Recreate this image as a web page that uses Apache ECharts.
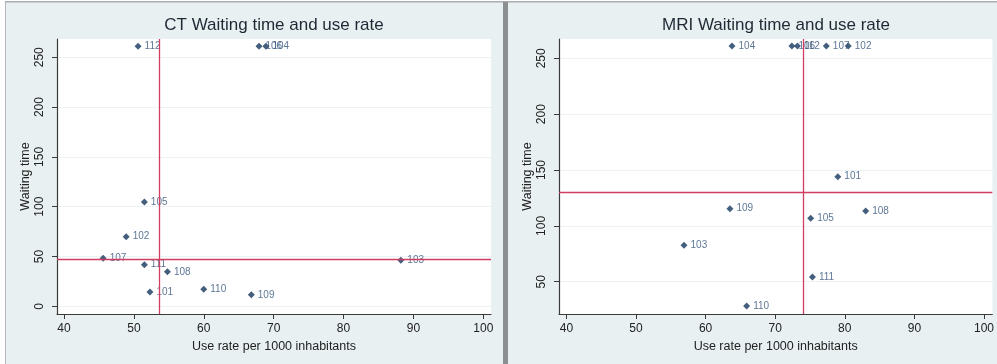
<!DOCTYPE html>
<html><head><meta charset="utf-8">
<script src="https://cdn.jsdelivr.net/npm/echarts@6/dist/echarts.min.js"></script>
<style>html,body{margin:0;padding:0;background:#fff}#c{width:997px;height:364px}</style>
</head><body><div id="c"></div>
<script>
// ---- data ----
const hospitals   = ['101','102','103','104','105','106','107','108','109','110','111','112'];
const ctUseRate   = [52.3, 48.9, 88.2, 68.9, 51.5, 67.9, 45.6, 54.8, 66.8, 60.0, 51.5, 50.6];
const ctWaiting   = [14.4, 69.9, 46.2, 261, 104.7, 261, 48.2, 34.7, 11.6, 17.1, 41.8, 261];
const mriUseRate  = [79.0, 80.5, 56.9, 63.8, 75.1, 72.4, 77.35, 83.0, 63.5, 65.9, 75.35, 73.2];
const mriWaiting  = [144.0, 261, 82.6, 261, 106.8, 261, 261, 113.3, 115.4, 28.2, 54.2, 261];
const ctRefUse = 53.6, ctRefWait = 47.2;
const mriRefUse = 74.1, mriRefWait = 130.3;
const xTicks    = [40, 50, 60, 70, 80, 90, 100];
const ctYTicks  = [0, 50, 100, 150, 200, 250];
const mriYTicks = [50, 100, 150, 200, 250];
const titles = ['CT Waiting time and use rate', 'MRI Waiting time and use rate'];
const xName = 'Use rate per 1000 inhabitants';
const yName = 'Waiting time';

// ---- styles ----
const FONT = 'Liberation Sans, Arial, sans-serif';
const AXIS = '#3a3a3a';
const MARK = '#14375c';
const LAB  = '#34547a';
const REF  = '#d23d62';

function xAxis(gi, min, max) {
  return {
    type: 'value', gridIndex: gi, min: min, max: max,
    name: xName, nameLocation: 'middle', nameGap: 21,
    nameTextStyle: {fontFamily: FONT, fontSize: 12.5, color: '#222'},
    axisLine: {show: true, onZero: false, lineStyle: {color: AXIS, width: 1.2}},
    axisTick: {show: true, length: 5, customValues: xTicks, lineStyle: {color: AXIS}},
    axisLabel: {customValues: xTicks, fontFamily: FONT, fontSize: 12, color: '#222', margin: 9},
    splitLine: {show: false}
  };
}
function yAxis(gi, min, max, ticks) {
  return {
    type: 'value', gridIndex: gi, min: min, max: max,
    name: yName, nameLocation: 'middle', nameGap: 25,
    nameTextStyle: {fontFamily: FONT, fontSize: 12.5, color: '#222'},
    axisLine: {show: true, onZero: false, lineStyle: {color: AXIS, width: 1.2}},
    axisTick: {show: true, length: 5, customValues: ticks, lineStyle: {color: AXIS}},
    axisLabel: {customValues: ticks, rotate: 90, fontFamily: FONT, fontSize: 12, color: '#222', margin: 11},
    splitLine: {show: true, lineStyle: {color: '#edf2f4', width: 1}}
  };
}
function scatter(gi, xs, ys, refX, refY) {
  return {
    type: 'scatter', xAxisIndex: gi, yAxisIndex: gi,
    symbol: 'diamond', symbolSize: 7,
    itemStyle: {color: MARK},
    label: {show: true, position: 'right', distance: 3, formatter: p => p.value[2],
            fontFamily: FONT, fontSize: 10, color: LAB},
    data: hospitals.map((h, i) => [xs[i], ys[i], h]),
    markLine: {
      silent: true, symbol: 'none', label: {show: false},
      lineStyle: {color: REF, width: 1.3, type: 'solid'},
      data: [{xAxis: refX}, {yAxis: refY}]
    },
    z: 3
  };
}

const chart = echarts.init(document.getElementById('c'), null, {renderer: 'canvas'});
chart.setOption({
  animation: false,
  backgroundColor: '#e8f0f2',
  title: [
    {text: titles[0], left: 274, top: 17, textAlign: 'center', padding: 0,
     textStyle: {fontFamily: FONT, fontSize: 17, fontWeight: 'normal', color: '#1f2933'}},
    {text: titles[1], left: 776, top: 17, textAlign: 'center', padding: 0,
     textStyle: {fontFamily: FONT, fontSize: 17, fontWeight: 'normal', color: '#1f2933'}}
  ],
  grid: [
    {left: 57, top: 39, width: 434, height: 275, show: true, backgroundColor: '#ffffff', borderWidth: 0},
    {left: 559, top: 39, width: 434.5, height: 275, show: true, backgroundColor: '#ffffff', borderWidth: 0}
  ],
  xAxis: [xAxis(0, 39.0, 101.1), xAxis(1, 38.94, 101.2)],
  yAxis: [yAxis(0, -7.7, 268.3, ctYTicks), yAxis(1, 21.1, 267.3, mriYTicks)],
  series: [
    scatter(0, ctUseRate, ctWaiting, ctRefUse, ctRefWait),
    scatter(1, mriUseRate, mriWaiting, mriRefUse, mriRefWait)
  ],
  graphic: [
    {type: 'rect', shape: {x: 0, y: 0, width: 5, height: 364}, style: {fill: '#ffffff'}, silent: true},
    {type: 'rect', shape: {x: 5, y: 1, width: 1, height: 363}, style: {fill: '#b4b8ba'}, silent: true},
    {type: 'rect', shape: {x: 5, y: 0, width: 992, height: 1}, style: {fill: '#ffffff'}, silent: true},
    {type: 'rect', shape: {x: 5, y: 1, width: 992, height: 1.5}, style: {fill: '#a9adaf'}, silent: true},
    {type: 'rect', shape: {x: 503, y: 2, width: 5, height: 362}, style: {fill: '#8c8e90'}, silent: true}
  ]
});
</script></body></html>
